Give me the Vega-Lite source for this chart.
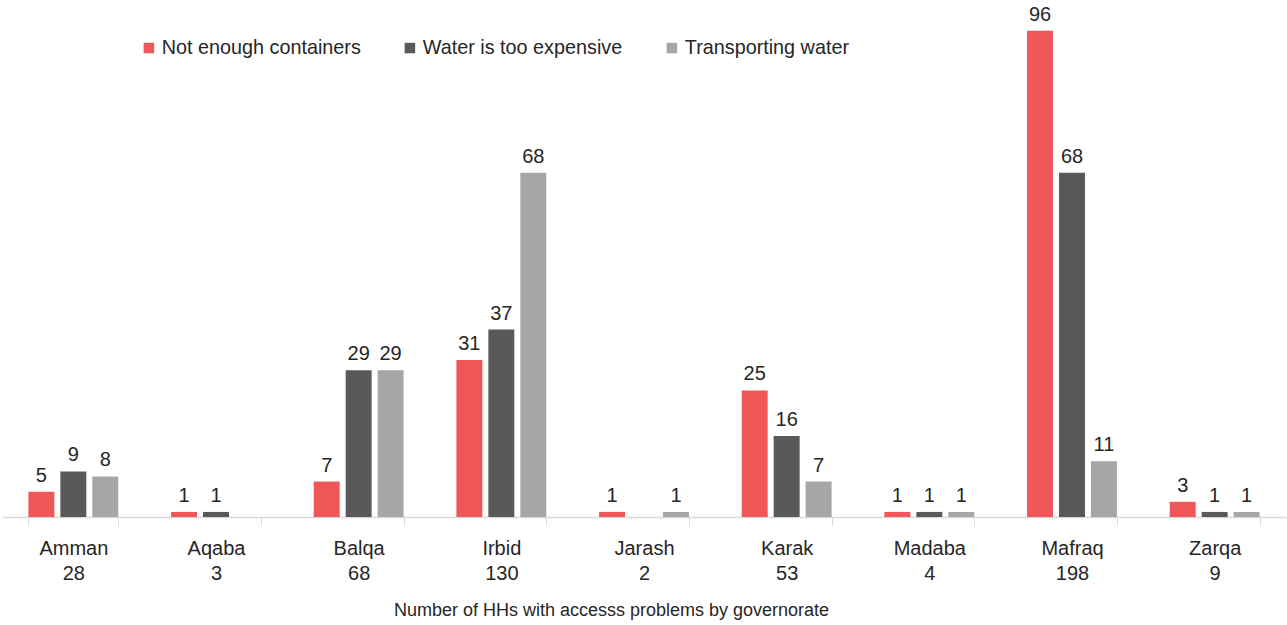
{
  "$schema": "https://vega.github.io/schema/vega-lite/v6.json",
  "width": 1284,
  "height": 512,
  "autosize": "none",
  "padding": {"left": 2, "top": 5, "right": 1, "bottom": 108},
  "background": "white",
  "config": {
    "view": {"stroke": null},
    "font": "Liberation Sans",
    "text": {"font": "Liberation Sans"}
  },
  "data": {
    "values": [
      {"gov": "Amman|28", "problem": "Not enough containers", "value": 5},
      {"gov": "Amman|28", "problem": "Water is too expensive", "value": 9},
      {"gov": "Amman|28", "problem": "Transporting water", "value": 8},
      {"gov": "Aqaba|3", "problem": "Not enough containers", "value": 1},
      {"gov": "Aqaba|3", "problem": "Water is too expensive", "value": 1},
      {"gov": "Balqa|68", "problem": "Not enough containers", "value": 7},
      {"gov": "Balqa|68", "problem": "Water is too expensive", "value": 29},
      {"gov": "Balqa|68", "problem": "Transporting water", "value": 29},
      {"gov": "Irbid|130", "problem": "Not enough containers", "value": 31},
      {"gov": "Irbid|130", "problem": "Water is too expensive", "value": 37},
      {"gov": "Irbid|130", "problem": "Transporting water", "value": 68},
      {"gov": "Jarash|2", "problem": "Not enough containers", "value": 1},
      {"gov": "Jarash|2", "problem": "Transporting water", "value": 1},
      {"gov": "Karak|53", "problem": "Not enough containers", "value": 25},
      {"gov": "Karak|53", "problem": "Water is too expensive", "value": 16},
      {"gov": "Karak|53", "problem": "Transporting water", "value": 7},
      {"gov": "Madaba|4", "problem": "Not enough containers", "value": 1},
      {"gov": "Madaba|4", "problem": "Water is too expensive", "value": 1},
      {"gov": "Madaba|4", "problem": "Transporting water", "value": 1},
      {"gov": "Mafraq|198", "problem": "Not enough containers", "value": 96},
      {"gov": "Mafraq|198", "problem": "Water is too expensive", "value": 68},
      {"gov": "Mafraq|198", "problem": "Transporting water", "value": 11},
      {"gov": "Zarqa|9", "problem": "Not enough containers", "value": 3},
      {"gov": "Zarqa|9", "problem": "Water is too expensive", "value": 1},
      {"gov": "Zarqa|9", "problem": "Transporting water", "value": 1}
    ]
  },
  "encoding": {
    "x": {
      "field": "gov",
      "type": "nominal",
      "sort": null,
      "scale": {"paddingInner": 0.37, "paddingOuter": 0.185},
      "axis": {
        "title": "Number of HHs with  accesss problems by governorate",
        "titleFont": "Liberation Sans",
        "titleFontSize": 18,
        "titleFontWeight": "normal",
        "titleColor": "#262626",
        "titlePadding": 18,
        "titleX": 609,
        "titleAlign": "center",
        "labelExpr": "isValid(datum.value) ? split(datum.value, '|') : ''",
        "labelAngle": 0,
        "labelFont": "Liberation Sans",
        "labelFontSize": 20,
        "labelColor": "#262626",
        "labelLineHeight": 25,
        "labelPadding": 13,
        "labelBaseline": "top",
        "tickBand": "extent",
        "tickSize": 8,
        "tickColor": "#d9d9d9",
        "domainColor": "#d9d9d9",
        "domainWidth": 1.5,
        "grid": false
      }
    },
    "xOffset": {
      "field": "problem",
      "type": "nominal",
      "sort": ["Not enough containers", "Water is too expensive", "Transporting water"],
      "scale": {"domain": ["Not enough containers", "Water is too expensive", "Transporting water"], "paddingInner": 0.1875, "paddingOuter": 0}
    },
    "y": {
      "field": "value",
      "type": "quantitative",
      "scale": {"domain": [0, 101.1], "nice": false, "zero": true},
      "axis": null
    }
  },
  "layer": [
    {
      "mark": {"type": "bar"},
      "encoding": {
        "color": {
          "field": "problem",
          "type": "nominal",
          "scale": {
            "domain": ["Not enough containers", "Water is too expensive", "Transporting water"],
            "range": ["#EF5758", "#595959", "#A6A6A6"]
          },
          "legend": {
            "title": null,
            "orient": "none",
            "direction": "horizontal",
            "legendX": 137,
            "legendY": 33,
            "symbolType": "square",
            "symbolSize": 110,
            "symbolStrokeWidth": 0,
            "labelFont": "Liberation Sans",
            "labelFontSize": 19.8,
            "labelLimit": 400,
            "labelColor": "#262626",
            "labelOffset": 3,
            "columnPadding": 39
          }
        }
      }
    },
    {
      "mark": {"type": "text", "baseline": "alphabetic", "dy": -10, "fontSize": 20, "color": "#262626", "font": "Liberation Sans"},
      "encoding": {
        "text": {"field": "value", "type": "quantitative"}
      }
    }
  ]
}
